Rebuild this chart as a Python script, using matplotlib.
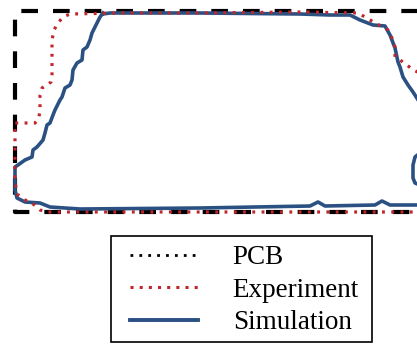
import matplotlib
matplotlib.use("Agg")
import matplotlib.pyplot as plt
from matplotlib.lines import Line2D
from matplotlib.patches import Rectangle

# Outline coordinates (image units, y downward)
pcb_x = [440, 15, 15, 440]
pcb_y = [11, 11, 212, 212]

exp_x = [440, 420, 413, 407, 400, 395, 395, 392, 388, 377, 365, 358, 300, 200, 120, 70, 63, 58, 54, 52, 52,
         51, 47, 42, 40, 40, 38, 35, 15, 15, 15, 18, 25, 32, 40, 48, 100, 200, 300, 440]
exp_y = [76, 73, 70, 65, 60, 57, 47, 38, 30, 24, 17, 13, 12, 13, 13, 14, 17, 23, 30, 40, 75,
         82, 85, 88, 95, 112, 120, 123, 123, 153, 183, 195, 200, 203, 210, 212, 212, 212, 212, 212]

sim_x = [103, 110, 200, 300, 330, 350, 360, 373, 385, 390, 395, 398, 400, 403, 408, 413, 420, 425,
         425, 420, 415, 413, 413, 415, 420, 425,
         425, 390, 382, 375, 325, 318, 310, 200, 80, 50, 40, 25, 17, 15, 15,
         18, 25, 32, 33, 37, 43, 45, 47, 50, 53, 55, 60, 62, 65, 70, 72, 73, 77, 82, 83, 87, 90, 92, 97, 100, 103]
sim_y = [14, 13, 13, 14, 15, 15, 20, 25, 26, 35, 48, 62, 67, 77, 85, 92, 103, 110,
         148, 153, 157, 165, 178, 183, 185, 186,
         205, 205, 201, 205, 206, 202, 206, 208, 209, 207, 203, 202, 198, 190, 167,
         165, 160, 157, 150, 147, 140, 133, 125, 123, 115, 110, 100, 97, 88, 85, 80, 70, 63, 60, 50, 47, 40, 33, 23, 17, 13]

labels = ["PCB", "Experiment", "Simulation"]

red = "#c0262c"
blue = "#2b5182"

fig = plt.figure(figsize=(4.17, 3.44), dpi=100)
ax = fig.add_axes([0, 0, 1, 1])
ax.set_xlim(0, 417)
ax.set_ylim(344, 0)
ax.axis("off")

ax.plot(pcb_x, pcb_y, color="black", lw=3.0, dashes=(4.0, 3.6), solid_joinstyle="miter")
ax.plot(sim_x, sim_y, color=blue, lw=2.6, solid_joinstyle="round")
ax.plot(exp_x, exp_y, color=red, lw=2.3, dashes=(0.9, 2.0))

handles = [
    Line2D([], [], color="black", lw=2.0, dashes=(1, 2.2)),
    Line2D([], [], color=red, lw=2.2, dashes=(1, 2.0)),
    Line2D([], [], color=blue, lw=2.8),
]
leg = ax.legend(handles, labels, loc="upper left", bbox_to_anchor=(130 / 417, 1 - 245 / 344),
                prop={"family": "Liberation Serif", "size": 19.5}, frameon=False,
                handlelength=2.52, handletextpad=1.27, labelspacing=0.28,
                borderpad=0, borderaxespad=0)
ax.add_patch(Rectangle((111, 236), 261, 106, fill=False, edgecolor="black", lw=1.2))

fig.savefig("out.png", dpi=100)
